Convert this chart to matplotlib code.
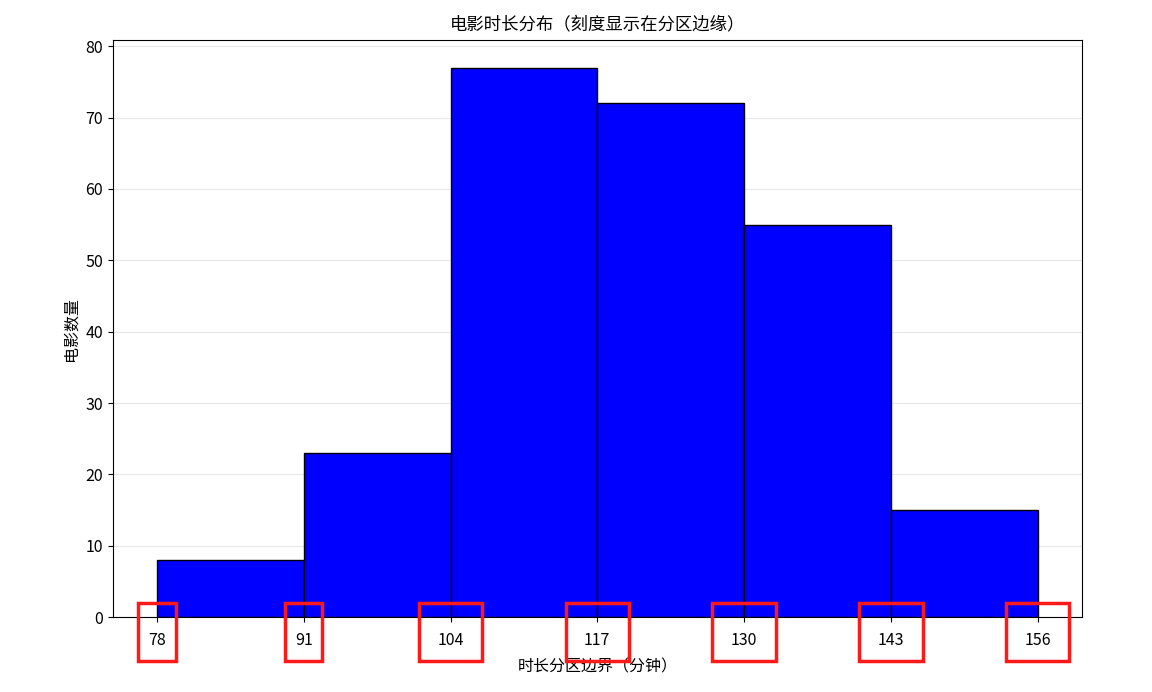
import matplotlib.pyplot as plt
from matplotlib.patches import Rectangle
from matplotlib.transforms import blended_transform_factory

plt.rcParams['font.family'] = ['Noto Sans CJK SC', 'DejaVu Sans']
plt.rcParams['axes.unicode_minus'] = False

# bin edges (minutes) and movie counts per bin
bin_edges = [78, 91, 104, 117, 130, 143, 156]
counts = [8, 23, 77, 72, 55, 15]

fig, ax = plt.subplots(figsize=(11.52, 6.92), dpi=100)
fig.subplots_adjust(left=0.098, right=0.939, top=0.942, bottom=0.108)

ax.hist(bin_edges[:-1], bins=bin_edges, weights=counts,
        color='blue', edgecolor='black', linewidth=1)

ax.set_xticks(bin_edges)
ax.set_xticklabels([str(e) for e in bin_edges])
ax.tick_params(labelsize=11.5)
ax.tick_params(axis='x', pad=7)
ax.grid(axis='y', alpha=0.3)
ax.set_axisbelow(True)

ax.set_title('电影时长分布（刻度显示在分区边缘）', fontsize=12.5, pad=8)
ax.set_xlabel('时长分区边界（分钟）', fontsize=11.5, labelpad=7)
ax.set_ylabel('电影数量', fontsize=11.5)

# red highlight boxes around each edge label
trans = blended_transform_factory(ax.transData, ax.transAxes)
for e in bin_edges:
    w = 3.3 if e < 100 else 5.6
    ax.add_patch(Rectangle((e - w / 2, -0.075), w, 0.1, transform=trans,
                           fill=False, edgecolor='#ff1a1a', linewidth=2.5,
                           clip_on=False, zorder=5))

plt.savefig('out.png')
